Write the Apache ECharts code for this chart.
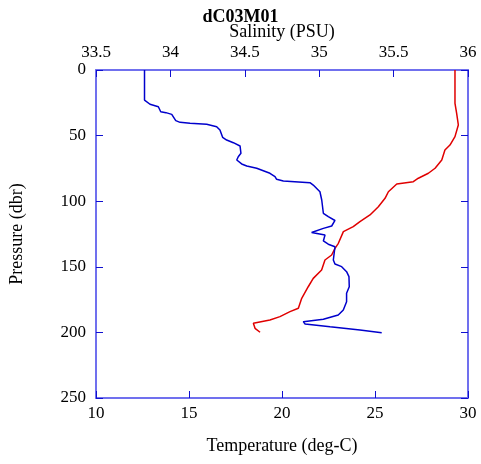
<!DOCTYPE html>
<html><head><meta charset="utf-8">
<script src="https://cdn.jsdelivr.net/npm/echarts@6/dist/echarts.min.js"></script>
<style>html,body{margin:0;padding:0;background:#fff}#c{width:481px;height:464px}</style>
</head><body><div id="c"></div>
<script>
// Temperature profile (red, bottom axis): [temperature degC, pressure dbar]
const tempProfile = [
[29.30,0],[29.30,25.4],[29.39,33.0],[29.48,41.9],[29.30,50.8],[29.03,57.2],[28.76,61.0],
[28.59,68.6],[28.23,74.9],[27.87,78.7],[27.33,82.5],[27.06,85.1],[26.17,86.9],[25.72,92.8],
[25.54,97.8],[25.18,104.2],[24.73,110.5],[24.19,115.6],[23.83,119.4],[23.30,123.2],[23.21,124.5],
[23.03,132.1],[22.85,135.9],[22.67,141.0],[22.31,144.8],[22.13,152.4],[21.68,158.8],[21.41,165.2],
[21.06,174.0],[20.88,181.6],[20.43,184.2],[19.89,188.0],[19.35,190.5],[18.46,193.1],[18.37,194.4],
[18.55,196.9],[18.82,199.9]
];
// Salinity profile (blue, top axis): [salinity PSU, pressure dbar]
const salProfile = [
[33.826,0],[33.826,22.9],[33.829,23.4],[33.863,26.1],[33.919,28.0],[33.935,31.8],[33.970,32.5],
[34.009,33.8],[34.036,38.6],[34.065,39.9],[34.132,40.6],[34.244,41.4],[34.311,43.2],[34.333,45.7],
[34.351,51.3],[34.378,53.4],[34.423,55.4],[34.468,57.9],[34.474,63.5],[34.456,66.1],[34.446,68.6],
[34.479,71.6],[34.513,73.2],[34.580,74.9],[34.669,78.7],[34.703,81.3],[34.714,83.3],[34.759,84.6],
[34.938,85.9],[34.960,87.7],[35.005,92.8],[35.017,99.1],[35.028,109.2],[35.061,111.8],[35.106,114.7],
[35.084,118.9],[35.028,120.7],[34.949,123.9],[35.039,125.8],[35.028,130.3],[35.061,132.8],[35.106,134.7],
[35.118,135.1],[35.095,144.8],[35.106,147.9],[35.151,149.9],[35.184,153.7],[35.200,157.5],[35.202,165.2],
[35.184,170.2],[35.184,176.6],[35.162,182.9],[35.128,186.7],[35.028,190.0],[34.893,191.8],[34.905,193.6],
[35.073,195.7],[35.274,198.2],[35.420,200.2]
];
const titleText = 'dC03M01';
const tempAxisName = 'Temperature (deg-C)';
const salAxisName = 'Salinity (PSU)';
const presAxisName = 'Pressure (dbr)';
const tempRange = [10, 30, 5];
const salRange = [33.5, 36, 0.5];
const presRange = [0, 250, 50];

const FONT = 'Liberation Serif';
const axisLine = {show:true, onZero:false, lineStyle:{color:'#7070ee', width:2}};
const axisTick = {show:true, inside:true, length:7, lineStyle:{color:'#1010d0', width:1}};
const lbl = {color:'#000', fontFamily:FONT, fontSize:17};
const nameStyle = {fontFamily:FONT, fontSize:18, color:'#000'};

const chart = echarts.init(document.getElementById('c'));
chart.setOption({
  animation:false,
  backgroundColor:'#fff',
  title:{text:titleText, left:'center', top:3, textStyle:{fontFamily:FONT, fontSize:18, fontWeight:'bold', color:'#000'}},
  grid:{left:96, right:13, top:70, bottom:66},
  xAxis:[
    {type:'value', position:'bottom', min:tempRange[0], max:tempRange[1], interval:tempRange[2],
     name:tempAxisName, nameLocation:'middle', nameGap:39, nameMoveOverlap:false, nameTextStyle:nameStyle,
     axisLine, axisTick, axisLabel:Object.assign({margin:7}, lbl), splitLine:{show:false}},
    {type:'value', position:'top', min:salRange[0], max:salRange[1], interval:salRange[2],
     name:salAxisName, nameLocation:'middle', nameGap:29, nameMoveOverlap:false, nameTextStyle:nameStyle,
     axisLine, axisTick, axisLabel:Object.assign({margin:9, formatter: v => String(v)}, lbl), splitLine:{show:false}}
  ],
  yAxis:[
    {type:'value', inverse:true, min:presRange[0], max:presRange[1], interval:presRange[2], position:'left',
     name:presAxisName, nameLocation:'middle', nameGap:70, nameMoveOverlap:false, nameRotate:90, nameTextStyle:nameStyle,
     axisLine, axisTick, axisLabel:Object.assign({margin:10}, lbl), splitLine:{show:false}},
    {type:'value', inverse:true, min:presRange[0], max:presRange[1], interval:presRange[2], position:'right',
     axisLine, axisTick, axisLabel:{show:false}, splitLine:{show:false}}
  ],
  series:[
    {type:'line', xAxisIndex:0, yAxisIndex:0, data:tempProfile, showSymbol:false, lineStyle:{color:'#e00000', width:1.5}, z:3},
    {type:'line', xAxisIndex:1, yAxisIndex:0, data:salProfile, showSymbol:false, lineStyle:{color:'#0000cc', width:1.5}, z:3}
  ]
});
</script></body></html>
